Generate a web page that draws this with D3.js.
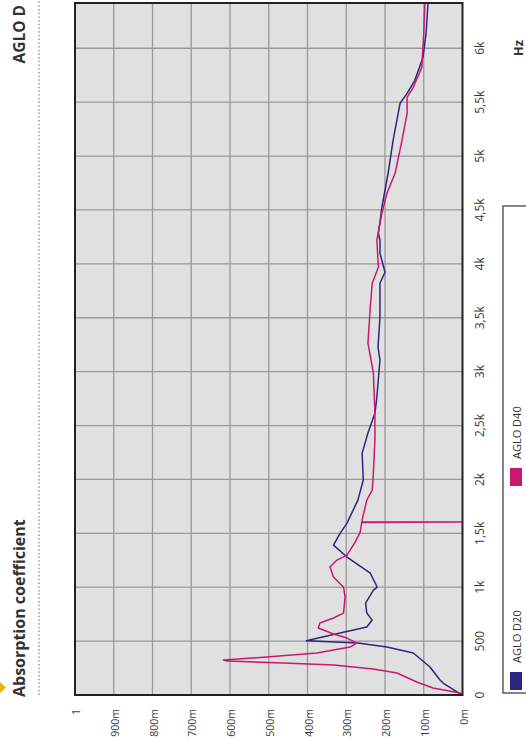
<!DOCTYPE html>
<html>
<head>
<meta charset="utf-8">
<script src="https://cdn.jsdelivr.net/npm/d3@7"></script>
<style>
  body { margin: 0; background: #fff; }
  text { font-family: "Open Sans", "Liberation Sans", sans-serif; fill: #333; }
  .tick_label { font-size: 12px; fill: #3a3a3a; }
  .abs_label { font-size: 10.5px; }
</style>
</head>
<body>
<svg id="chart" width="526" height="738"></svg>
<script>
  /*
   * Data (frequency in Hz, absorption coefficient)
   */
  var FREQ_TICKS = [0, 500, 1000, 1500, 2000, 2500, 3000, 3500, 4000, 4500, 5000, 5500, 6000];
  var FREQ_LABELS = ["0", "500", "1k", "1,5k", "2k", "2,5k", "3k", "3,5k", "4k", "4,5k", "5k", "5,5k", "6k"];
  var ABS_TICKS = [0, 0.1, 0.2, 0.3, 0.4, 0.5, 0.6, 0.7, 0.8, 0.9, 1];
  var ABS_LABELS = ["0m", "100m", "200m", "300m", "400m", "500m", "600m", "700m", "800m", "900m", "1"];

  var SERIES_NAMES = ["AGLO D20", "AGLO D40"];
  var SERIES_COLORS = ["#2d2680", "#c8186f"];

  var D20 = [
    [0, 0], [19, 0.01], [111, 0.05], [139, 0.058], [260, 0.084], [390, 0.127], [445, 0.195],
    [482, 0.27], [503, 0.403], [575, 0.316], [631, 0.247], [695, 0.233], [760, 0.247],
    [853, 0.25], [973, 0.23], [1000, 0.22], [1131, 0.238], [1280, 0.298], [1390, 0.333],
    [1500, 0.316], [1595, 0.298], [1808, 0.27], [1994, 0.256], [2244, 0.259], [2430, 0.244],
    [2615, 0.226], [2763, 0.221], [3106, 0.213], [3227, 0.218], [3505, 0.213], [3820, 0.213],
    [3922, 0.2], [4099, 0.213], [4219, 0.213], [4284, 0.217], [4525, 0.208], [4840, 0.192],
    [5147, 0.179], [5397, 0.166], [5490, 0.161], [5582, 0.143], [5703, 0.123], [5916, 0.102],
    [6139, 0.094], [6420, 0.089]
  ];

  var D40 = [
    [0, 0], [19, 0.006], [65, 0.076], [121, 0.118], [204, 0.169], [241, 0.23], [278, 0.333],
    [297, 0.463], [315, 0.608], [324, 0.617], [352, 0.505], [390, 0.376], [445, 0.29],
    [482, 0.273], [528, 0.298], [566, 0.333], [621, 0.372], [668, 0.368], [714, 0.333],
    [760, 0.307], [909, 0.303], [1000, 0.307], [1094, 0.333], [1187, 0.342], [1252, 0.324],
    [1298, 0.298], [1419, 0.277], [1511, 0.264], [1600, 0.26], [1604, 0], [1608, 0.26],
    [1808, 0.247], [1901, 0.233], [2059, 0.23], [2365, 0.226], [2615, 0.226], [2986, 0.23],
    [3264, 0.244], [3598, 0.238], [3820, 0.233], [3970, 0.217], [4219, 0.221], [4470, 0.208],
    [4655, 0.195], [4840, 0.174], [5147, 0.156], [5397, 0.143], [5545, 0.143], [5638, 0.127],
    [5823, 0.105], [6139, 0.1], [6420, 0.097]
  ];

  // The page is a chart turned a quarter turn counter-clockwise,
  // so everything is drawn in a 738 x 526 frame and rotated.
  var W = 738;
  var H = 526;

  var svg = d3.select("#chart");
  var root = svg.append("g")
    .attr("transform", "translate(0," + W + ") rotate(-90)");

  var x = d3.scaleLinear().domain([0, 6420]).range([43, 735]);
  var y = d3.scaleLinear().domain([0, 1]).range([462.5, 75]);

  // header
  root.append("polygon")
    .attr("points", "45,0 50.5,6 56,0")
    .attr("fill", "#e8b410");
  root.append("line")
    .attr("x1", 43).attr("x2", W)
    .attr("y1", 39).attr("y2", 39)
    .attr("stroke", "#9a9a9a")
    .attr("stroke-width", 1.5)
    .attr("stroke-dasharray", "1.5,2.2");
  root.append("text")
    .attr("x", 41).attr("y", 25)
    .style("font-size", "16px")
    .style("font-weight", "bold")
    .text("Absorption coefficient");
  root.append("text")
    .attr("x", 733).attr("y", 25)
    .style("font-size", "15.5px")
    .style("font-weight", "bold")
    .style("text-anchor", "end")
    .text("AGLO D");

  // plot background
  var x0 = x(0), x1 = x(6420), y0 = y(1), y1 = y(0);
  root.append("rect")
    .attr("x", x0).attr("y", y0)
    .attr("width", x1 - x0).attr("height", y1 - y0)
    .attr("fill", "#e0e0e0");

  // grid
  root.append("g").selectAll("line")
      .data(FREQ_TICKS.slice(1))
    .enter().append("line")
      .attr("x1", d => x(d)).attr("x2", d => x(d))
      .attr("y1", y0).attr("y2", y1)
      .attr("stroke", "#999")
      .attr("stroke-width", 1.3);
  root.append("g").selectAll("line")
      .data(ABS_TICKS.slice(1, -1))
    .enter().append("line")
      .attr("x1", x0).attr("x2", x1)
      .attr("y1", d => y(d)).attr("y2", d => y(d))
      .attr("stroke", "#999")
      .attr("stroke-width", 1.3);

  // curves
  root.append("clipPath").attr("id", "plot_clip")
    .append("rect")
      .attr("x", x0).attr("y", y0)
      .attr("width", x1 - x0).attr("height", y1 - y0);

  var line = d3.line()
    .x(d => x(d[0]))
    .y(d => y(d[1]));

  var curves = root.append("g").attr("clip-path", "url(#plot_clip)");
  [D20, D40].forEach(function (series, i) {
    curves.append("path")
      .datum(series)
      .attr("d", line)
      .attr("fill", "none")
      .attr("stroke", SERIES_COLORS[i])
      .attr("stroke-width", 1.5)
      .attr("stroke-linejoin", "round");
  });

  // frame
  root.append("rect")
    .attr("x", x0).attr("y", y0)
    .attr("width", x1 - x0).attr("height", y1 - y0)
    .attr("fill", "none")
    .attr("stroke", "#222")
    .attr("stroke-width", 2);

  // tick labels
  root.append("g").selectAll("text")
      .data(FREQ_TICKS)
    .enter().append("text")
      .attr("class", "tick_label")
      .attr("x", d => x(d))
      .attr("y", 479)
      .attr("dominant-baseline", "central")
      .style("text-anchor", "middle")
      .text((d, i) => FREQ_LABELS[i]);
  // these sit at the page's bottom edge, kept small enough to fit
  root.append("g").selectAll("text")
      .data(ABS_TICKS)
    .enter().append("text")
      .attr("class", "tick_label abs_label")
      .attr("x", 29)
      .attr("y", d => y(d) + 1)
      .attr("dominant-baseline", "central")
      .style("text-anchor", "end")
      .text((d, i) => ABS_LABELS[i]);
  root.append("text")
    .attr("x", 690).attr("y", 518)
    .attr("dominant-baseline", "central")
    .style("text-anchor", "middle")
    .style("font-size", "13px")
    .style("font-weight", "bold")
    .text("Hz");

  // legend
  root.append("rect")
    .attr("x", 45).attr("y", 503)
    .attr("width", 487).attr("height", 80)
    .attr("fill", "#fff")
    .attr("stroke", "#444")
    .attr("stroke-width", 1.3);
  var LEGEND_X = [48, 252];
  var item = root.append("g").selectAll("g")
      .data(SERIES_NAMES)
    .enter().append("g")
      .attr("transform", (d, i) => "translate(" + LEGEND_X[i] + ",510)");
  item.append("rect")
    .attr("width", 18).attr("height", 12)
    .attr("fill", (d, i) => SERIES_COLORS[i]);
  item.append("text")
    .attr("x", 27).attr("y", 6)
    .attr("dominant-baseline", "central")
    .style("font-size", "11px")
    .text(d => d);
</script>
</body>
</html>
